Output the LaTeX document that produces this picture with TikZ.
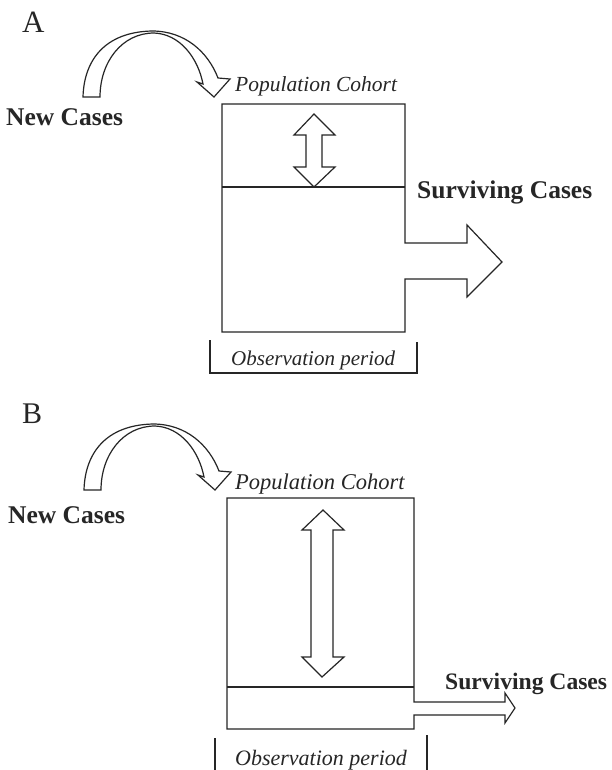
\documentclass[tikz,border=0pt]{standalone}
\usepackage{fontspec}
\setmainfont{Liberation Serif}
\begin{document}
\begin{tikzpicture}[x=1pt,y=-1pt,
  ln/.style={draw=black!85,line width=1.2pt,line join=miter},
  lbl/.style={inner sep=0pt,anchor=base west,text=black!85},
  panel/.style={lbl,font=\fontsize{31}{34}\selectfont},
  bold/.style={lbl,font=\fontsize{25.5}{30}\selectfont\bfseries},
  ital/.style={lbl,font=\fontsize{21.5}{26}\selectfont\itshape}]
\useasboundingbox (0,0) rectangle (612,770);
\fill[white] (0,0) rectangle (612,770);

% ---------- Panel A ----------
\node[panel] (la) at (22,33) {A};
\draw[ln] (83,97) -- (100,97)
  .. controls (100,62) and (122,33) .. (154,33)
  .. controls (180,34) and (198,58) .. (203,84)
  -- (197,82) -- (214,97) -- (230,79) -- (218,78)
  .. controls (208,52) and (185,31) .. (152,31)
  .. controls (105,32) and (84,60) .. (83,97) -- cycle;
\node[bold] (nca) at (6,126) {New Cases};
\node[ital] (pca) at (235,92) {Population Cohort};
% box with arrow
\draw[ln] (405,243) -- (405,104) -- (222,104) -- (222,332) -- (405,332) -- (405,279)
  -- (467,279) -- (467,297) -- (502,262) -- (467,225) -- (467,243) -- cycle;
\draw[ln] (222,187) -- (405,187);
\draw[ln] (314,114) -- (335,135) -- (322,135) -- (322,167) -- (335,167) -- (314,187)
  -- (294,167) -- (306,167) -- (306,135) -- (294,135) -- cycle;
\node[bold] (sca) at (417,198) {Surviving Cases};
\draw[ln] (210,340) -- (210,373) -- (417,373) -- (417,342);
\node[ital,font=\fontsize{21}{26}\selectfont\itshape] (opa) at (231,365) {Observation period};

% ---------- Panel B ----------
\node[panel,font=\fontsize{30}{33}\selectfont] (lb) at (22,423) {B};
\begin{scope}[shift={(1,393)}]
\draw[ln] (83,97) -- (100,97)
  .. controls (100,62) and (122,33) .. (154,33)
  .. controls (180,34) and (198,58) .. (203,84)
  -- (197,82) -- (214,97) -- (230,79) -- (218,78)
  .. controls (208,52) and (185,31) .. (152,31)
  .. controls (105,32) and (84,60) .. (83,97) -- cycle;
\end{scope}
\node[bold] (ncb) at (8,523) {New Cases};
\node[ital,font=\fontsize{22.5}{26}\selectfont\itshape] (pcb) at (235,489) {Population Cohort};
\draw[ln] (414,702) -- (414,498) -- (227,498) -- (227,729) -- (414,729) -- (414,715)
  -- (505,715) -- (505,723) -- (515,708) -- (505,693) -- (505,702) -- cycle;
\draw[ln] (227,687) -- (414,687);
\draw[ln] (323,510) -- (344,530) -- (333,530) -- (333,657) -- (344,657) -- (322,677)
  -- (302,657) -- (311,657) -- (311,530) -- (302,530) -- cycle;
\node[bold,font=\fontsize{23.6}{28}\selectfont\bfseries] (scb) at (445,689) {Surviving Cases};
\draw[ln] (215,738) -- (215,771);
\draw[ln] (427,735) -- (427,771);
\node[ital,font=\fontsize{22}{26}\selectfont\itshape] (opb) at (235,765) {Observation period};
\end{tikzpicture}
\end{document}
